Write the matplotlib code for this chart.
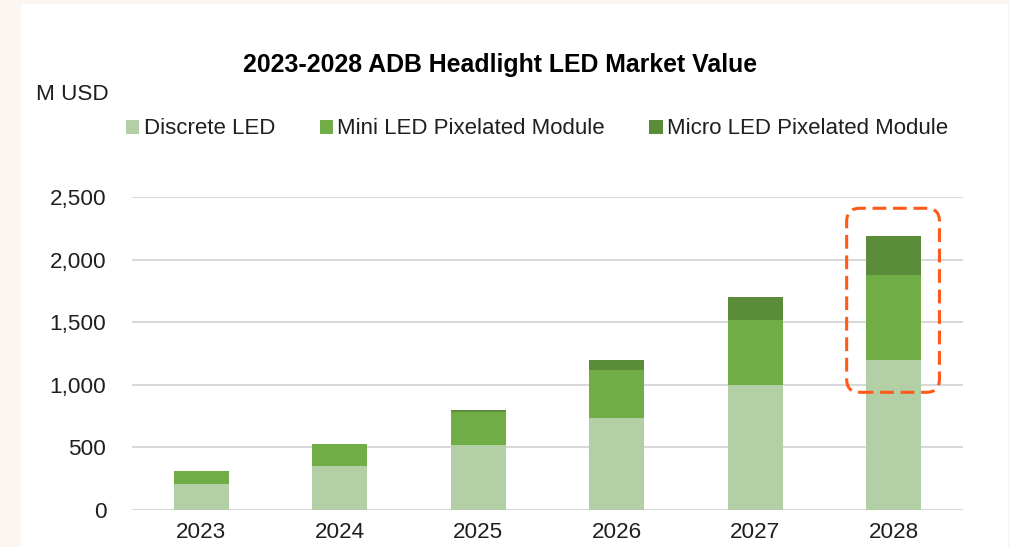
import matplotlib
matplotlib.use("Agg")
import matplotlib.pyplot as plt
from matplotlib.patches import Rectangle, FancyBboxPatch, Patch
from matplotlib.transforms import IdentityTransform
from matplotlib.ticker import FuncFormatter

plt.rcParams['font.family'] = ['Liberation Sans', 'DejaVu Sans']

years = ["2023", "2024", "2025", "2026", "2027", "2028"]
discrete = [205, 350, 520, 735, 1000, 1200]
mini = [105, 180, 265, 385, 520, 680]
micro = [0, 0, 15, 80, 180, 310]

labels = ["Discrete LED", "Mini LED Pixelated Module", "Micro LED Pixelated Module"]
colors = ["#B3CFA6", "#70AD47", "#5A8C3A"]
text_c = "#1F1F1F"
fs = 16.2

W, H = 1010, 547
fig = plt.figure(figsize=(W / 100, H / 100), dpi=100, facecolor="#FDF5F0")
fig.patches.append(Rectangle((21 / W, 0), 987 / W, (H - 4) / H, transform=fig.transFigure,
                             facecolor="white", edgecolor="none", zorder=-10))

ax = fig.add_axes([132 / W, (H - 510) / H, (963 - 132) / W, (510 - 197) / H])
ax.set_facecolor("none")

x = list(range(len(years)))
bottom2 = [d + m for d, m in zip(discrete, mini)]
ax.bar(x, discrete, 0.4, color=colors[0], zorder=3)
ax.bar(x, mini, 0.4, bottom=discrete, color=colors[1], zorder=3)
ax.bar(x, micro, 0.4, bottom=bottom2, color=colors[2], zorder=3)

ax.set_xlim(-0.5, 5.5)
ax.set_ylim(0, 2500)
ax.set_yticks(range(0, 2501, 500))
ax.yaxis.set_major_formatter(FuncFormatter(lambda v, p: f"{int(v):,}"))
ax.set_xticks(x)
ax.set_xticklabels(years)
ax.grid(axis="y", color="#D9D9D9", linewidth=1.5, zorder=0)
for s in ax.spines.values():
    s.set_visible(False)
ax.tick_params(axis="both", length=0, labelsize=fs, colors=text_c)
ax.tick_params(axis="y", pad=18.5)
ax.tick_params(axis="x", pad=9)

fig.text(500 / W, 1 - 65 / H, "2023-2028 ADB Headlight LED Market Value", ha="center", va="center",
         fontsize=17.9, fontweight="bold", color="black")
fig.text(36 / W, 1 - 94 / H, "M USD", ha="left", va="center", fontsize=fs, color=text_c)

handles = [Patch(facecolor=c, edgecolor="none") for c in colors]
fig.legend(handles, labels, ncol=3, loc="center left", bbox_to_anchor=(126 / W, 1 - 129 / H),
           frameon=False, fontsize=16.0, handlelength=0.6, handleheight=0.6, handletextpad=0.2,
           columnspacing=2.0, labelcolor=text_c, borderaxespad=0, borderpad=0)

# dashed highlight around the 2028 bar
fig.canvas.draw()
p0 = ax.transData.transform((4.66, 940))
p1 = ax.transData.transform((5.33, 2410))
box = FancyBboxPatch((p0[0], p0[1]), p1[0] - p0[0], p1[1] - p0[1],
                     boxstyle="round,pad=0,rounding_size=13", transform=IdentityTransform(),
                     facecolor="none", edgecolor="#FF5A1A", linewidth=2.2,
                     linestyle=(0, (4.5, 2.2)), zorder=5)
fig.patches.append(box)

fig.savefig("out.png", dpi=100, facecolor=fig.get_facecolor())
